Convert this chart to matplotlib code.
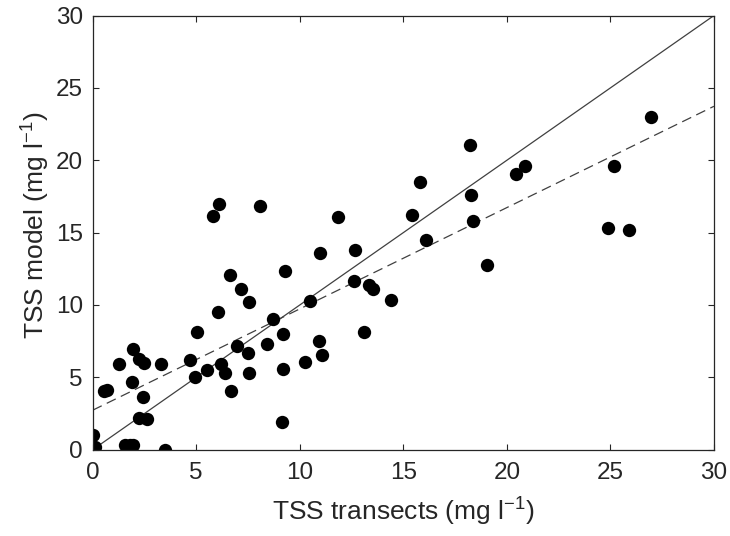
import matplotlib
matplotlib.use("Agg")
import matplotlib.pyplot as plt
import numpy as np

# TSS transects (x) vs TSS model (y), mg l-1
tss_transects = [0.03, 0.11, 1.56, 1.80, 1.96, 3.49, 2.25, 2.60, 1.96, 2.25,
                 2.48, 1.28, 3.28, 1.88, 0.55, 0.71, 2.41,
                 6.11, 5.82, 8.07, 11.84, 10.97, 12.69, 6.63, 9.31, 12.64,
                 13.35, 13.54, 7.14, 7.53, 6.05, 10.49, 8.69, 9.17, 5.02,
                 13.11, 6.98, 8.40, 7.50, 10.91, 11.07, 10.26, 4.70, 6.18,
                 5.50, 6.39, 7.53, 9.17, 4.95, 9.14, 14.40, 16.09, 6.70,
                 18.21, 15.80, 15.44, 20.43, 20.88, 25.16, 18.26, 18.37,
                 19.04, 24.88, 25.90, 26.97]
tss_model = [1.00, 0.20, 0.30, 0.30, 0.30, 0.01, 2.16, 2.09, 6.93, 6.30,
             5.96, 5.89, 5.91, 4.67, 4.07, 4.16, 3.65,
             16.98, 16.15, 16.84, 16.06, 13.61, 13.80, 12.07, 12.37, 11.65,
             11.40, 11.12, 11.08, 10.20, 9.53, 10.29, 9.00, 7.97, 8.13,
             8.10, 7.18, 7.28, 6.65, 7.50, 6.54, 6.07, 6.17, 5.89,
             5.50, 5.27, 5.31, 5.55, 4.99, 1.88, 10.34, 14.49, 4.05,
             21.06, 18.48, 16.22, 19.07, 19.63, 19.60, 17.60, 15.82,
             12.78, 15.30, 15.18, 22.97]

# regression line (dashed) and 1:1 line
fit_intercept = 2.73
fit_slope = 0.70

plt.rcParams['font.family'] = ['Liberation Sans', 'DejaVu Sans']
plt.rcParams['mathtext.default'] = 'regular'

fig = plt.figure(figsize=(7.3, 5.36), dpi=100)
ax = fig.add_axes([0.127, 0.161, 0.851, 0.810])

xx = np.array([0, 30])
ax.plot(xx, xx, color='#404040', lw=0.9)
ax.plot(xx, fit_intercept + fit_slope * xx, color='#404040', lw=0.9,
        dashes=(8, 4.5))
ax.plot(tss_transects, tss_model, 'o', color='black', markersize=9.6,
        markeredgewidth=0)

ax.set_xlim(0, 30)
ax.set_ylim(0, 30)
ax.set_xticks(np.arange(0, 31, 5))
ax.set_yticks(np.arange(0, 31, 5))
ax.tick_params(direction='in', length=4.5, width=0.8, top=True, right=True,
               labelsize=17.5, colors='#262626')
ax.tick_params(axis='x', pad=9)
ax.tick_params(axis='y', pad=7)
for s in ax.spines.values():
    s.set_color('#262626')
    s.set_linewidth(0.9)

ax.set_xlabel('TSS transects (mg l$^{-1}$)', fontsize=19, color='#262626',
              labelpad=8)
ax.set_ylabel('TSS model (mg l$^{-1}$)', fontsize=19, color='#262626',
              labelpad=3)
ax.yaxis.label.set_y(0.517)

fig.savefig('out.png', dpi=100)
